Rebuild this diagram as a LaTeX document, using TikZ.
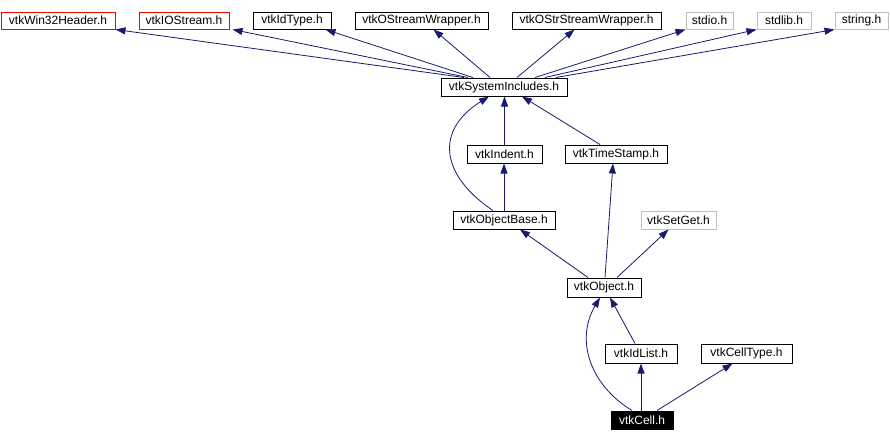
\documentclass[tikz,border=0pt]{standalone}
\usepackage{fontspec}
\setmainfont{Liberation Sans}
\usepackage{xcolor}
\definecolor{edgeblue}{HTML}{191970}
\definecolor{missred}{HTML}{FF0000}
\definecolor{sysgray}{HTML}{BFBFBF}
\usetikzlibrary{arrows.meta}

\begin{document}
\begin{tikzpicture}[x=1pt, y=-1pt,
    hdr/.style={draw=black, line width=1pt, inner sep=0pt, minimum height=17pt,
      font=\fontsize{12}{12}\selectfont},
    dep/.style={draw=edgeblue, line width=0.8pt, -{Triangle[length=10pt,width=7pt]}}]
  \useasboundingbox (0,0) rectangle (890,442);
  % top row of headers
  \foreach \n/\x/\w/\c/\t in {w32/58/114/missred/vtkWin32Header.h,
      ios/184/90/missred/vtkIOStream.h, idt/292/78/black/vtkIdType.h,
      osw/421.5/133/black/vtkOStreamWrapper.h, ossw/586.5/149/black/vtkOStrStreamWrapper.h,
      stdio/709.5/47/sysgray/stdio.h, stdlib/784/54/sysgray/stdlib.h,
      string/861.5/53/sysgray/string.h} {
    \node[hdr, draw=\c, minimum width=\w pt] (\n) at (\x, 20.5) {\t};
  }
  \node[hdr, minimum width=126pt, minimum height=18pt] (si) at (504, 87) {vtkSystemIncludes.h};
  \node[hdr, minimum width=75pt, minimum height=18pt] (ind) at (504.5, 154) {vtkIndent.h};
  \node[hdr, minimum width=102pt, minimum height=18pt] (ts) at (616, 154) {vtkTimeStamp.h};
  \node[hdr, minimum width=102pt, minimum height=18pt] (ob) at (504, 220) {vtkObjectBase.h};
  \node[hdr, draw=sysgray, minimum width=75pt, minimum height=18pt] (sg) at (678.5, 220) {vtkSetGet.h};
  \node[hdr, minimum width=74pt, minimum height=19pt] (obj) at (604, 287.5) {vtkObject.h};
  \node[hdr, minimum width=72pt, minimum height=19pt] (idl) at (641, 353.5) {vtkIdList.h};
  \node[hdr, minimum width=91pt, minimum height=19pt] (ct) at (746.5, 353.5) {vtkCellType.h};
  \node[hdr, fill=black, text=white, minimum width=62pt, minimum height=18pt] (cell) at (642, 420) {vtkCell.h};

  % includes of vtkSystemIncludes.h
  \draw[dep] ([xshift=-40pt]si.north) -- (w32.south east);
  \draw[dep] ([xshift=-36pt]si.north) -- ([xshift=3pt]ios.south east);
  \draw[dep] ([xshift=-31pt]si.north) -- ([xshift=-6pt]idt.south east);
  \draw[dep] ([xshift=-14pt]si.north) -- ([xshift=12pt]osw.south);
  \draw[dep] ([xshift=13pt]si.north) -- ([xshift=-12pt]ossw.south);
  \draw[dep] ([xshift=31pt]si.north) -- (stdio.south west);
  \draw[dep] ([xshift=41pt]si.north) -- (stdlib.south west);
  \draw[dep] ([xshift=52pt]si.north) -- (string.south west);

  \draw[dep] ([xshift=-11pt]ob.north) .. controls (440,175) and (435,130) .. ([xshift=-15pt]si.south);
  \draw[dep] (ind.north) -- (ind.north |- si.south);
  \draw[dep] ([xshift=-16pt]ts.north) -- ([xshift=18pt]si.south);
  \draw[dep] (ob.north) -- (ob.north |- ind.south);
  \draw[dep] ([xshift=-16pt]obj.north) -- ([xshift=16pt]ob.south);
  \draw[dep] ([xshift=1pt]obj.north) -- ([xshift=-3pt]ts.south);
  \draw[dep] ([xshift=13pt]obj.north) -- ([xshift=-10pt]sg.south);
  \draw[dep] ([xshift=-6pt]idl.north) -- ([xshift=6pt]obj.south);
  \draw[dep] ([xshift=-10pt]cell.north) .. controls (590,385) and (575,340) .. ([xshift=-4pt]obj.south);
  \draw[dep] ([xshift=-1pt]cell.north) -- (idl.south);
  \draw[dep] ([xshift=15pt]cell.north) -- ([xshift=-14pt]ct.south);
\end{tikzpicture}
\end{document}
